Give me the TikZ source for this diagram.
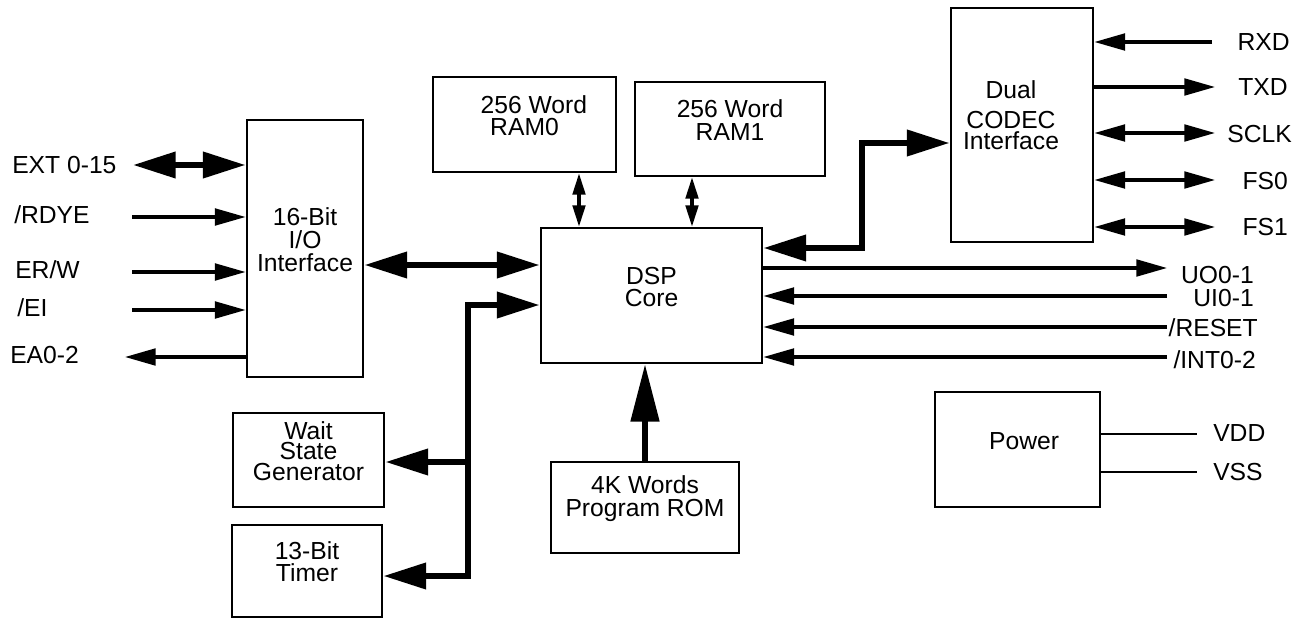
\documentclass[tikz,border=0pt]{standalone}
\usepackage{fontspec}
\setmainfont{Liberation Sans}
\usetikzlibrary{arrows.meta,fit}
\begin{document}
\begin{tikzpicture}[x=0.75pt,y=-0.75pt,
  box/.style={draw,line width=2.1pt,inner sep=0pt,align=center,font=\fontsize{18.5}{17}\selectfont},
  txt/.style={inner sep=0pt,align=center,font=\fontsize{18.5}{17}\selectfont},
  lbl/.style={inner sep=0pt,text height=13.2pt,text depth=0pt,font=\fontsize{18.5}{17}\selectfont},
  sig/.style={line width=2.3pt,>={Triangle[length=23pt,width=12.5pt]}},
  ramar/.style={line width=2.3pt,>={Triangle[length=16pt,width=9.5pt]}},
  bus/.style={line width=4.5pt,line cap=rect,>={Triangle[length=32pt,width=19pt]}},
  romar/.style={line width=3.8pt,>={Triangle[length=43pt,width=21pt]}},
  pwr/.style={line width=2.2pt}]
\useasboundingbox (0,0) rectangle (1305,620);

% boxes
\node[box,fit={(247,120) (363,377)}] (io) {16-Bit\\I/O\\Interface};
\node[box,fit={(433,77) (616,172)}] (ram0) {\hspace*{14pt}256 Word\\RAM0};
\node[box,fit={(635,82) (825,176)}] (ram1) {256 Word\\RAM1};
\node[box,fit={(541,228) (762,363)}] (dsp) {DSP\\Core};
\node[box,fit={(951,8) (1093,242)}] (codec) {};
\node[txt,font=\fontsize{18.5}{15.5}\selectfont] (codectxt) at (1011,115) {Dual\\[7pt]CODEC\\Interface};
\node[box,fit={(233,413) (384,507)},font=\fontsize{18.5}{15.5}\selectfont] (wait) {Wait\\State\\Generator};
\node[box,fit={(232,525) (382,617)},font=\fontsize{18.5}{16.5}\selectfont] (timer) {13-Bit\\Timer};
\node[box,fit={(551,462) (739,553)}] (rom) {4K Words\\Program ROM};
\node[box,fit={(935,392) (1100,507)}] (power) {\hspace*{10pt}Power};

% left signals
\node[lbl,anchor=west] (lext) at (12,165) {EXT 0-15};
\node[lbl,anchor=west] (lrdye) at (14,215) {/RDYE};
\node[lbl,anchor=west] (lerw) at (15,270) {ER/W};
\node[lbl,anchor=west] (lei) at (17,308) {/EI};
\node[lbl,anchor=west] (lea) at (10,355) {EA0-2};
\coordinate (cext) at (133,165);
\coordinate (crdye) at (132,217);
\coordinate (cerw) at (132,272);
\coordinate (cei) at (132,310);
\coordinate (cea) at (125,357);
\draw[bus,line cap=butt,<->] (cext) -- (cext -| io.west);
\draw[sig,->] (crdye) -- (crdye -| io.west);
\draw[sig,->] (cerw) -- (cerw -| io.west);
\draw[sig,->] (cei) -- (cei -| io.west);
\draw[sig,->] (cea -| io.west) -- (cea);

% io - dsp
\coordinate (ciod) at (450,265);
\draw[bus,line cap=butt,<->] (ciod -| io.east) -- (ciod -| dsp.west);

% ram arrows
\coordinate (cr0) at (579,200);
\coordinate (cr1) at (692,200);
\draw[ramar,<->] (cr0 |- ram0.south) -- (cr0 |- dsp.north);
\draw[ramar,<->] (cr1 |- ram1.south) -- (cr1 |- dsp.north);

% rom arrow
\draw[romar,->] (rom.north) -- (rom.north |- dsp.south);

% left bus
\coordinate (bt) at (468,305);
\coordinate (bw) at (468,462);
\coordinate (bb) at (468,576);
\draw[bus,->] (bb) -- (bt) -- (bt -| dsp.west);
\draw[bus,->] (bw) -- (bw -| wait.east);
\draw[bus,->] (bb) -- (bb -| timer.east);

% codec bus
\coordinate (cb1) at (862,143);
\coordinate (cb2) at (862,248);
\draw[bus,->] (cb2) -- (cb1) -- (cb1 -| codec.west);
\draw[bus,->] (cb2) -- (cb2 -| dsp.east);

% codec signals
\node[lbl,anchor=east] (lrxd) at (1290,42) {RXD};
\node[lbl,anchor=east] (ltxd) at (1288,87) {TXD};
\node[lbl,anchor=east] (lsclk) at (1292,134) {SCLK};
\node[lbl,anchor=east] (lfs0) at (1288,181) {FS0};
\node[lbl,anchor=east] (lfs1) at (1288,227) {FS1};
\coordinate (crxd) at (1212,42);
\coordinate (ctxd) at (1215,87);
\coordinate (csclk) at (1215,133);
\coordinate (cfs0) at (1215,180);
\coordinate (cfs1) at (1215,227);
\draw[sig,->] (crxd) -- (crxd -| codec.east);
\draw[sig,->] (ctxd -| codec.east) -- (ctxd);
\draw[sig,<->] (csclk -| codec.east) -- (csclk);
\draw[sig,<->] (cfs0 -| codec.east) -- (cfs0);
\draw[sig,<->] (cfs1 -| codec.east) -- (cfs1);

% dsp right signals
\node[lbl,anchor=east] (luo) at (1254,275) {UO0-1};
\node[lbl,anchor=east] (lui) at (1254,298) {UI0-1};
\node[lbl,anchor=east] (lreset) at (1258,328) {/RESET};
\node[lbl,anchor=east] (lint) at (1256,360) {/INT0-2};
\coordinate (cuo) at (1167,268);
\coordinate (cui) at (1167,296);
\coordinate (creset) at (1167,327);
\coordinate (cint) at (1167,357);
\draw[sig,->] (cuo -| dsp.east) -- (cuo);
\draw[sig,->] (cui) -- (cui -| dsp.east);
\draw[sig,->] (creset) -- (creset -| dsp.east);
\draw[sig,->] (cint) -- (cint -| dsp.east);

% power
\node[lbl,anchor=west] (lvdd) at (1213,433) {VDD};
\node[lbl,anchor=west] (lvss) at (1213,472) {VSS};
\coordinate (cvdd) at (1197,434);
\coordinate (cvss) at (1197,472);
\draw[pwr] (cvdd -| power.east) -- (cvdd);
\draw[pwr] (cvss -| power.east) -- (cvss);
\end{tikzpicture}
\end{document}
